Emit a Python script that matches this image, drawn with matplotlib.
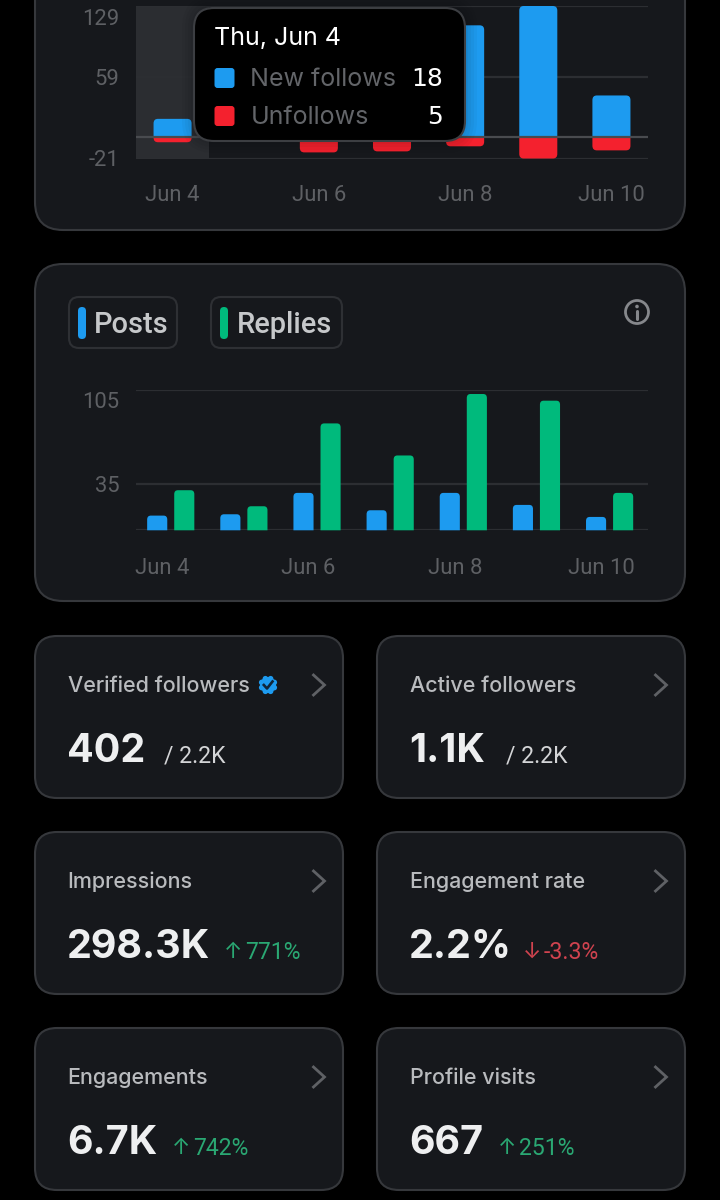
import numpy as np
import matplotlib
matplotlib.use('Agg')
import matplotlib.pyplot as plt
from matplotlib.patches import Circle, FancyBboxPatch, PathPatch
from matplotlib.path import Path
from matplotlib.transforms import Affine2D

plt.rcParams['font.family'] = ['Inter', 'DejaVu Sans']

W, H = 720, 1200

# Follower chart
days = ['Jun 4', 'Jun 5', 'Jun 6', 'Jun 7', 'Jun 8', 'Jun 9', 'Jun 10']
new_follows = [18, 30, 60, 50, 110, 129, 41]
unfollows = [5, 3, 15, 14, 9, 21, 13]
follow_ticks = [-21, 59, 129]

# Posts chart
posts = [11, 12, 28, 15, 28, 19, 10]
replies = [30, 18, 80, 56, 102, 97, 28]
post_ticks = [35, 105]

# Stat cards
card_titles = ['Verified followers', 'Active followers', 'Impressions',
               'Engagement rate', 'Engagements', 'Profile visits']
card_values = ['402', '1.1K', '298.3K', '2.2%', '6.7K', '667']
card_notes = ['/ 2.2K', '/ 2.2K', '↑ 771%', '↓ -3.3%', '↑ 742%', '↑ 251%']
note_x = [164, 506, 224, 523, 172, 498]

BLUE = '#1d9bf0'
RED = '#f4212e'
GREEN = '#00ba7c'
CARD = '#16181c'
EDGE = '#36383c'
GRID = '#2c2e32'
TICK = '#5e6064'
TITLE = '#b9bbbe'
BRIGHT = '#eeeff0'

fig = plt.figure(figsize=(W / 100, H / 100), dpi=100, facecolor='black')


def pt(px):
    return px * 0.72


def px_axes(x0, y0, x1, y1, zorder=1):
    ax = fig.add_axes([x0 / W, 1 - y1 / H, (x1 - x0) / W, (y1 - y0) / H], zorder=zorder)
    ax.patch.set_alpha(0)
    return ax


def round_box(ax, x0, y0, x1, y1, r, fc, ec, lw=1.5, zorder=1, alpha=None):
    box = FancyBboxPatch((x0, y0), x1 - x0, y1 - y0,
                         boxstyle=f'round,pad=0,rounding_size={r}',
                         fc=fc, ec=ec, lw=lw, zorder=zorder, alpha=alpha)
    ax.add_patch(box)


def rounded_bar(ax, x, width, base, value, rx, ry, color, zorder=3):
    # bar with its far end rounded, the base stays square
    left, right = x - width / 2, x + width / 2
    ry = np.sign(value - base) * min(ry, abs(value - base))
    verts = [(left, base), (left, value - ry), (left, value), (left + rx, value),
             (right - rx, value), (right, value), (right, value - ry),
             (right, base), (left, base)]
    codes = [Path.MOVETO, Path.LINETO, Path.CURVE3, Path.CURVE3,
             Path.LINETO, Path.CURVE3, Path.CURVE3, Path.LINETO, Path.CLOSEPOLY]
    ax.add_patch(PathPatch(Path(verts, codes), fc=color, ec='none', zorder=zorder, clip_on=False))


def style_chart(ax, xticks, yticks, ylabels, xpad):
    ax.set_xlim(-0.5, 6.5)
    for side in ax.spines.values():
        side.set_visible(False)
    ax.set_xticks(xticks)
    ax.set_xticklabels(days[::2], family='Roboto')
    ax.set_yticks(yticks)
    ax.set_yticklabels(ylabels, family='Roboto')
    ax.tick_params(length=0, labelcolor=TICK, labelsize=pt(22))
    ax.tick_params(axis='x', pad=xpad)
    ax.tick_params(axis='y', pad=12)
    ax.grid(axis='y', color=GRID, lw=1.6, zorder=0)
    ax.set_axisbelow(True)


def drop_top_label(ax, px):
    # the top tick label hangs below its gridline
    lab = ax.get_yticklabels()[-1]
    lab.set_verticalalignment('top')
    lab.set_transform(lab.get_transform() + Affine2D().translate(0, -px))


# background with the cards
bg = px_axes(0, 0, W, H, zorder=0)
bg.set_xlim(0, W)
bg.set_ylim(H, 0)
bg.axis('off')
round_box(bg, 35, -80, 685, 230, 28, CARD, EDGE)
round_box(bg, 35, 264, 685, 601, 28, CARD, EDGE)

# follows chart
ax1 = px_axes(136, 6, 648, 158.5)
ax1.set_ylim(-21, 129)
style_chart(ax1, np.arange(0, 7, 2), follow_ticks, [str(t) for t in follow_ticks], 19)
drop_top_label(ax1, 3)
ax1.axvspan(-0.5, 0.5, color='#2b2d31', lw=0, zorder=0.5)
ax1.axhline(0, color='#494b4f', lw=1.6, zorder=4)
for i in range(len(days)):
    rounded_bar(ax1, i, 0.52, 0, new_follows[i], 0.06, 4.5, BLUE)
    rounded_bar(ax1, i, 0.52, 0, -unfollows[i], 0.06, 4.5, RED)

# posts chart
ax2 = px_axes(136, 390, 648, 530.3)
ax2.set_ylim(0, 105)
style_chart(ax2, np.arange(0, 7, 2) - 0.14, [0] + post_ticks, [''] + [str(t) for t in post_ticks], 20)
drop_top_label(ax2, 2)
for i in range(len(days)):
    rounded_bar(ax2, i - 0.21, 0.275, 0, posts[i], 0.05, 3, BLUE)
    rounded_bar(ax2, i + 0.16, 0.275, 0, replies[i], 0.05, 3, GREEN)

# legend chips and info icon
round_box(bg, 69, 297, 177, 348, 10, CARD, '#2e3034')
round_box(bg, 211, 297, 342, 348, 10, CARD, '#2e3034')
round_box(bg, 78, 307, 86, 339, 4, BLUE, 'none', lw=0, zorder=2)
round_box(bg, 220, 307, 228, 339, 4, GREEN, 'none', lw=0, zorder=2)
bg.text(94, 322, 'Posts', color='#c6c8ca', fontsize=pt(29), fontweight='medium', family='Roboto',
        va='center_baseline')
bg.text(237, 322, 'Replies', color='#c6c8ca', fontsize=pt(29), fontweight='medium', family='Roboto',
        va='center_baseline')
bg.add_patch(Circle((637, 312), 11.5, fc='none', ec='#86888c', lw=2))
bg.add_patch(Circle((637, 306.5), 1.8, fc='#86888c', ec='none'))
bg.plot([637, 637], [310.5, 319], color='#86888c', lw=2.2, solid_capstyle='round')

# stat cards, two per row
for k in range(6):
    x0 = 35 if k % 2 == 0 else 377
    y0 = 636 + 196 * (k // 2)
    round_box(bg, x0, y0, x0 + 308, y0 + 162, 22, CARD, EDGE)
    bg.text(x0 + 32.5, y0 + 48, card_titles[k], color=TITLE, fontsize=pt(21.5), fontweight='medium',
            va='center_baseline')
    bg.text(x0 + 32, y0 + 126, card_values[k], color=BRIGHT, fontsize=pt(39.5), fontweight='bold',
            va='baseline')
    note = card_notes[k]
    if note[0] == '/':
        bg.text(note_x[k], y0 + 118, note, color='#d4d5d7', fontsize=pt(23), family='Roboto',
                va='center_baseline')
    else:
        col = '#2aa873' if note[0] == '↑' else '#d0434f'
        bg.text(note_x[k], y0 + 118, note[0], color=col, fontsize=pt(22), va='center_baseline')
        bg.text(note_x[k] + 21, y0 + 118, note[2:], color=col, fontsize=pt(23), family='Roboto',
                va='center_baseline')
    # chevron
    bg.plot([x0 + 278.5, x0 + 289.5, x0 + 278.5], [y0 + 39, y0 + 49, y0 + 59], color='#5f6165', lw=2,
            solid_joinstyle='miter')

# verified badge, scalloped edge around a disc
badge_angles = np.arange(8) * np.pi / 4 + np.pi / 8
for a in badge_angles:
    bg.add_patch(Circle((268 + 6.8 * np.cos(a), 685 + 6.8 * np.sin(a)), 2.8, fc=BLUE, ec='none'))
bg.add_patch(Circle((268, 685), 8, fc=BLUE, ec='none'))
bg.plot([263.8, 267, 272.5], [685, 688.5, 681.5], color='#10263a', lw=1.9)

# tooltip on top of the first chart, with a tight shadow
tip = px_axes(0, 0, W, H, zorder=5)
tip.set_xlim(0, W)
tip.set_ylim(H, 0)
tip.axis('off')
for grow in (3, 6, 9, 12):
    round_box(tip, 194 - grow, 8 - grow, 465 + grow, 141 + grow, 20 + grow, 'black', 'none', lw=0,
              zorder=0.5, alpha=0.03)
round_box(tip, 194, 8, 465, 141, 20, 'black', '#3c3e42')
tip.text(214, 36, 'Thu, Jun 4', color='white', fontsize=pt(25), va='center_baseline')
tip.add_patch(FancyBboxPatch((214.5, 68), 20, 20, boxstyle='round,pad=0,rounding_size=3', fc=BLUE, ec='none', zorder=2))
tip.add_patch(FancyBboxPatch((214.5, 106), 20, 20, boxstyle='round,pad=0,rounding_size=3', fc=RED, ec='none', zorder=2))
tip.text(250.5, 77, 'New follows', color='#636569', fontsize=pt(25), va='center_baseline')
tip.text(250.5, 115, 'Unfollows', color='#636569', fontsize=pt(25), va='center_baseline')
tip.text(443, 77, str(new_follows[0]), color='white', fontsize=pt(25), family='DejaVu Sans', ha='right',
         va='center_baseline')
tip.text(443, 115, str(unfollows[0]), color='white', fontsize=pt(25), family='DejaVu Sans', ha='right',
         va='center_baseline')

fig.savefig('out.png', dpi=100, facecolor='black')
